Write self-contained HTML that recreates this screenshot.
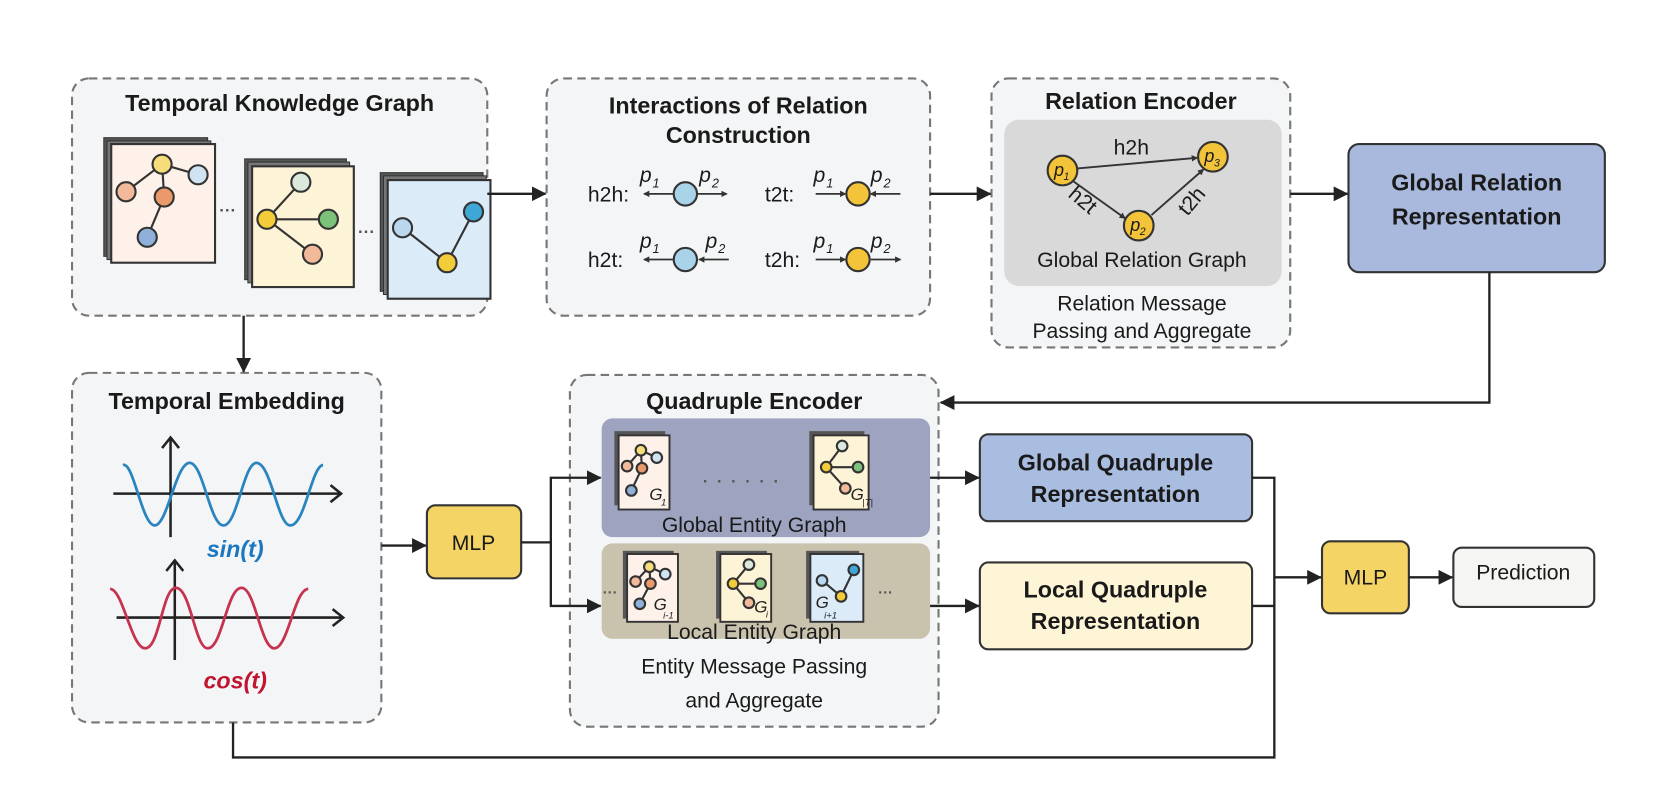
<!DOCTYPE html>
<html><head><meta charset="utf-8"><style>
html,body{margin:0;padding:0;background:#fff;}
svg{display:block;font-family:"Liberation Sans",Arial,sans-serif;}
.t{font-weight:bold;font-size:22px;fill:#1a1a1a;text-anchor:middle;}
.b{font-size:20px;fill:#1a1a1a;text-anchor:middle;}
.dash{fill:#f4f5f6;stroke:#777;stroke-width:2;stroke-dasharray:8,5;}
.ln{stroke:#222;stroke-width:2.2;fill:none;}
.e{stroke:#333;stroke-width:2;}
.n{stroke:#333;stroke-width:2;}
.i{font-style:italic;}
</style></head><body>
<svg width="1661" height="808" viewBox="0 0 1661 808">
<defs>
<marker id="ah" markerWidth="14" markerHeight="14" refX="13" refY="7" orient="auto" markerUnits="userSpaceOnUse" viewBox="0 0 14 14"><path d="M0,0 L14,7 L0,14 z" fill="#222"/></marker>
<marker id="sa" markerWidth="6" markerHeight="6" refX="5" refY="3" orient="auto" markerUnits="userSpaceOnUse" viewBox="0 0 6 6"><path d="M0,0 L6,3 L0,6 z" fill="#333"/></marker>
</defs>
<g transform="scale(1.0593)">
<!-- Dashed containers -->
<rect class="dash" x="68" y="74" width="392" height="224" rx="16"/>
<rect class="dash" x="516" y="74" width="362" height="224" rx="16"/>
<rect class="dash" x="936" y="74" width="282" height="254" rx="16"/>
<rect class="dash" x="68" y="352" width="292" height="330" rx="16"/>
<rect class="dash" x="538" y="354" width="348" height="332" rx="16"/>

<!-- TKG -->
<text class="t" x="264" y="105">Temporal Knowledge Graph</text>
<g>
<rect x="98" y="130" width="98" height="112" fill="#555" stroke="#333"/>
<rect x="101" y="133" width="98" height="112" fill="#777" stroke="#333"/>
<rect x="105" y="136" width="98" height="112" fill="#fdf1ea" stroke="#333" stroke-width="2"/>
<line class="e" x1="153" y1="155" x2="187" y2="165"/><line class="e" x1="153" y1="155" x2="119" y2="181"/><line class="e" x1="153" y1="155" x2="155" y2="186"/><line class="e" x1="155" y1="186" x2="139" y2="224"/>
<circle class="n" cx="153" cy="155" r="9" fill="#f7dc7a"/><circle class="n" cx="187" cy="165" r="9" fill="#cfe3f2"/><circle class="n" cx="119" cy="181" r="9" fill="#f2b99a"/><circle class="n" cx="155" cy="186" r="9" fill="#ea9a6a"/><circle class="n" cx="139" cy="224" r="9" fill="#8fb0d8"/>
</g>
<text x="215" y="204" font-size="16" font-weight="bold" fill="#555" text-anchor="middle">···</text>
<g>
<rect x="231" y="150" width="96" height="114" fill="#555" stroke="#333"/>
<rect x="234" y="153" width="96" height="114" fill="#777" stroke="#333"/>
<rect x="238" y="157" width="96" height="114" fill="#fdf3d6" stroke="#333" stroke-width="2"/>
<line class="e" x1="252" y1="207" x2="284" y2="172"/><line class="e" x1="252" y1="207" x2="310" y2="207"/><line class="e" x1="252" y1="207" x2="295" y2="240"/>
<circle class="n" cx="284" cy="172" r="9" fill="#dbe9dc"/><circle class="n" cx="252" cy="207" r="9" fill="#f3cc3a"/><circle class="n" cx="310" cy="207" r="9" fill="#7cc27a"/><circle class="n" cx="295" cy="240" r="9" fill="#f2b99a"/>
</g>
<text x="346" y="224" font-size="16" font-weight="bold" fill="#555" text-anchor="middle">···</text>
<g>
<rect x="359" y="163" width="97" height="112" fill="#555" stroke="#333"/>
<rect x="362" y="166" width="97" height="112" fill="#777" stroke="#333"/>
<rect x="366" y="170" width="97" height="112" fill="#dcebf8" stroke="#333" stroke-width="2"/>
<line class="e" x1="380" y1="215" x2="422" y2="248"/><line class="e" x1="447" y1="200" x2="422" y2="248"/>
<circle class="n" cx="380" cy="215" r="9" fill="#b9d7ee"/><circle class="n" cx="447" cy="200" r="9" fill="#3ea7d6"/><circle class="n" cx="422" cy="248" r="9" fill="#f3cc3a"/>
</g>

<!-- Interactions -->
<text class="t" x="697" y="107">Interactions of Relation</text>
<text class="t" x="697" y="135">Construction</text>
<g font-size="20" fill="#1a1a1a">
<text x="555" y="190">h2h:</text>
<text x="555" y="252">h2t:</text>
<text x="722" y="190">t2t:</text>
<text x="722" y="252">t2h:</text>
<g class="i" font-size="20">
<text x="604" y="172">p</text><text x="616" y="177" font-size="12">1</text>
<text x="660" y="172">p</text><text x="672" y="177" font-size="12">2</text>
<text x="604" y="234">p</text><text x="616" y="239" font-size="12">1</text>
<text x="666" y="234">p</text><text x="678" y="239" font-size="12">2</text>
<text x="768" y="172">p</text><text x="780" y="177" font-size="12">1</text>
<text x="822" y="172">p</text><text x="834" y="177" font-size="12">2</text>
<text x="768" y="234">p</text><text x="780" y="239" font-size="12">1</text>
<text x="822" y="234">p</text><text x="834" y="239" font-size="12">2</text>
</g>
</g>
<g stroke="#333" stroke-width="1.6">
<line x1="636" y1="183" x2="608" y2="183" marker-end="url(#sa)"/><line x1="658" y1="183" x2="686" y2="183" marker-end="url(#sa)"/>
<line x1="636" y1="245" x2="608" y2="245" marker-end="url(#sa)"/><line x1="688" y1="245" x2="660" y2="245" marker-end="url(#sa)"/>
<line x1="770" y1="183" x2="798" y2="183" marker-end="url(#sa)"/><line x1="850" y1="183" x2="822" y2="183" marker-end="url(#sa)"/>
<line x1="770" y1="245" x2="798" y2="245" marker-end="url(#sa)"/><line x1="822" y1="245" x2="850" y2="245" marker-end="url(#sa)"/>
</g>
<circle class="n" cx="647" cy="183" r="11" fill="#a9d3e8"/>
<circle class="n" cx="647" cy="245" r="11" fill="#a9d3e8"/>
<circle class="n" cx="810" cy="183" r="11" fill="#f3c43a"/>
<circle class="n" cx="810" cy="245" r="11" fill="#f3c43a"/>

<!-- Relation Encoder -->
<text class="t" x="1077" y="103">Relation Encoder</text>
<rect x="948" y="113" width="262" height="157" rx="14" fill="#d9d9d9"/>
<g stroke="#333" stroke-width="1.8">
<line x1="1017" y1="159" x2="1130" y2="149" marker-end="url(#sa)"/>
<line x1="1013" y1="171" x2="1062" y2="206" marker-end="url(#sa)"/>
<line x1="1087" y1="203" x2="1136" y2="160" marker-end="url(#sa)"/>
</g>
<circle class="n" cx="1003" cy="161" r="14" fill="#f3c43a"/>
<circle class="n" cx="1145" cy="148" r="14" fill="#f3c43a"/>
<circle class="n" cx="1075" cy="213" r="14" fill="#f3c43a"/>
<g class="i" font-size="17" fill="#1a1a1a"><text x="995" y="166">p</text><text x="1004" y="170" font-size="10">1</text>
<text x="1137" y="153">p</text><text x="1146" y="157" font-size="10">3</text>
<text x="1067" y="218">p</text><text x="1076" y="222" font-size="10">2</text></g>
<text class="b" x="1068" y="146">h2h</text>
<text class="b" transform="translate(1018,194) rotate(40)">h2t</text>
<text class="b" transform="translate(1130,194) rotate(-50)">t2h</text>
<text class="b" x="1078" y="252">Global Relation Graph</text>
<text class="b" x="1078" y="293">Relation Message</text>
<text class="b" x="1078" y="319">Passing and Aggregate</text>

<!-- Global Relation Representation -->
<rect x="1273" y="136" width="242" height="121" rx="10" fill="#a9b9dd" stroke="#333" stroke-width="2"/>
<text class="t" x="1394" y="180">Global Relation</text>
<text class="t" x="1394" y="212">Representation</text>

<!-- Temporal Embedding -->
<text class="t" x="214" y="386">Temporal Embedding</text>
<g stroke="#222" stroke-width="2.4" fill="none">
<line x1="161" y1="507" x2="161" y2="413"/><polyline points="153,423 161,413 169,423"/>
<line x1="107" y1="466" x2="322" y2="466"/><polyline points="312,458 322,466 312,474"/>
<line x1="165" y1="623" x2="165" y2="529"/><polyline points="157,539 165,529 173,539"/>
<line x1="110" y1="583" x2="324" y2="583"/><polyline points="314,575 324,583 314,591"/>
</g>
<path d="M116,439 C126,435 134,496 146,496 C158,496 166,437 179,437 C192,437 198,496 211,496 C224,496 230,437 242,437 C256,437 262,496 274,496 C288,496 294,440 305,439" fill="none" stroke="#2a84bf" stroke-width="2.6"/>
<path d="M104,556 C116,556 124,612 137,612 C151,612 153,555 166,555 C180,555 184,612 196,612 C210,612 214,555 228,555 C241,555 246,612 259,612 C272,612 278,556 291,556" fill="none" stroke="#c5334f" stroke-width="2.6"/>
<text x="222" y="526" font-size="22" font-weight="bold" font-style="italic" fill="#1a78c2" text-anchor="middle">sin(t)</text>
<text x="222" y="650" font-size="22" font-weight="bold" font-style="italic" fill="#c0142f" text-anchor="middle">cos(t)</text>

<!-- MLP 1 -->
<rect x="403" y="477" width="89" height="69" rx="8" fill="#f5d466" stroke="#333" stroke-width="2"/>
<text class="b" x="447" y="519">MLP</text>

<!-- Quadruple Encoder -->
<text class="t" x="712" y="386">Quadruple Encoder</text>
<rect x="568" y="395" width="310" height="112" rx="10" fill="#9ea3c0"/>
<rect x="568" y="513" width="310" height="90" rx="10" fill="#c9c2ad"/>
<!-- global cards -->
<rect x="580" y="407" width="48" height="70" fill="#555"/><rect x="584" y="411" width="48" height="70" fill="#fdf1ea" stroke="#333" stroke-width="1.8"/>
<line class="e" x1="605" y1="425" x2="620" y2="432"/><line class="e" x1="605" y1="425" x2="592" y2="440"/><line class="e" x1="605" y1="425" x2="606" y2="442"/><line class="e" x1="606" y1="442" x2="596" y2="463"/>
<circle class="n" cx="605" cy="425" r="5" fill="#f7dc7a"/><circle class="n" cx="620" cy="432" r="5" fill="#cfe3f2"/><circle class="n" cx="592" cy="440" r="5" fill="#f2b99a"/><circle class="n" cx="606" cy="442" r="5" fill="#ea9a6a"/><circle class="n" cx="596" cy="463" r="5" fill="#8fb0d8"/>
<text x="613" y="472" font-size="16" font-style="italic" fill="#222">G</text><text x="624" y="477" font-size="9" font-style="italic" fill="#222">1</text>
<text x="702" y="460" font-size="22" fill="#555" text-anchor="middle" letter-spacing="6">······</text>
<rect x="764" y="407" width="52" height="70" fill="#555"/><rect x="768" y="411" width="52" height="70" fill="#fdf3d6" stroke="#333" stroke-width="1.8"/>
<line class="e" x1="780" y1="441" x2="795" y2="421"/><line class="e" x1="780" y1="441" x2="810" y2="441"/><line class="e" x1="780" y1="441" x2="798" y2="461"/>
<circle class="n" cx="795" cy="421" r="5" fill="#dbe9dc"/><circle class="n" cx="780" cy="441" r="5" fill="#f3cc3a"/><circle class="n" cx="810" cy="441" r="5" fill="#7cc27a"/><circle class="n" cx="798" cy="461" r="5" fill="#f2b99a"/>
<text x="803" y="472" font-size="16" font-style="italic" fill="#222">G</text><text x="814" y="477" font-size="9" font-style="italic" fill="#222">|T|</text>
<text class="b" x="712" y="502">Global Entity Graph</text>
<!-- local cards -->
<text x="576" y="564" font-size="14" font-weight="bold" fill="#555" text-anchor="middle">···</text>
<rect x="588" y="520" width="48" height="64" fill="#555"/><rect x="592" y="523" width="48" height="64" fill="#fdf1ea" stroke="#333" stroke-width="1.8"/>
<line class="e" x1="613" y1="535" x2="628" y2="542"/><line class="e" x1="613" y1="535" x2="600" y2="549"/><line class="e" x1="613" y1="535" x2="614" y2="551"/><line class="e" x1="614" y1="551" x2="604" y2="570"/>
<circle class="n" cx="613" cy="535" r="5" fill="#f7dc7a"/><circle class="n" cx="628" cy="542" r="5" fill="#cfe3f2"/><circle class="n" cx="600" cy="549" r="5" fill="#f2b99a"/><circle class="n" cx="614" cy="551" r="5" fill="#ea9a6a"/><circle class="n" cx="604" cy="570" r="5" fill="#8fb0d8"/>
<text x="617" y="576" font-size="16" font-style="italic" fill="#222">G</text><text x="626" y="584" font-size="9" font-style="italic" fill="#222">i-1</text>
<rect x="676" y="520" width="48" height="64" fill="#555"/><rect x="680" y="523" width="48" height="64" fill="#fdf3d6" stroke="#333" stroke-width="1.8"/>
<line class="e" x1="692" y1="551" x2="707" y2="533"/><line class="e" x1="692" y1="551" x2="718" y2="551"/><line class="e" x1="692" y1="551" x2="707" y2="569"/>
<circle class="n" cx="707" cy="533" r="5" fill="#dbe9dc"/><circle class="n" cx="692" cy="551" r="5" fill="#f3cc3a"/><circle class="n" cx="718" cy="551" r="5" fill="#7cc27a"/><circle class="n" cx="707" cy="569" r="5" fill="#f2b99a"/>
<text x="712" y="578" font-size="16" font-style="italic" fill="#222">G</text><text x="723" y="583" font-size="9" font-style="italic" fill="#222">i</text>
<rect x="761" y="520" width="50" height="64" fill="#555"/><rect x="765" y="523" width="50" height="64" fill="#dcebf8" stroke="#333" stroke-width="1.8"/>
<line class="e" x1="776" y1="548" x2="794" y2="563"/><line class="e" x1="806" y1="538" x2="794" y2="563"/>
<circle class="n" cx="776" cy="548" r="5" fill="#b9d7ee"/><circle class="n" cx="806" cy="538" r="5" fill="#3ea7d6"/><circle class="n" cx="794" cy="563" r="5" fill="#f3cc3a"/>
<text x="770" y="574" font-size="16" font-style="italic" fill="#222">G</text><text x="778" y="584" font-size="9" font-style="italic" fill="#222">i+1</text>
<text x="836" y="564" font-size="14" font-weight="bold" fill="#555" text-anchor="middle">···</text>
<text class="b" x="712" y="603">Local Entity Graph</text>
<text class="b" x="712" y="636">Entity Message Passing</text>
<text class="b" x="712" y="668">and Aggregate</text>

<!-- Quadruple representations -->
<rect x="925" y="410" width="257" height="82" rx="8" fill="#a9bde0" stroke="#333" stroke-width="2"/>
<text class="t" x="1053" y="444">Global Quadruple</text>
<text class="t" x="1053" y="474">Representation</text>
<rect x="925" y="531" width="257" height="82" rx="8" fill="#fdf5d6" stroke="#333" stroke-width="2"/>
<text class="t" x="1053" y="564">Local Quadruple</text>
<text class="t" x="1053" y="594">Representation</text>

<!-- MLP 2 and Prediction -->
<rect x="1248" y="511" width="82" height="68" rx="8" fill="#f5d466" stroke="#333" stroke-width="2"/>
<text class="b" x="1289" y="552">MLP</text>
<rect x="1372" y="517" width="133" height="56" rx="8" fill="#f5f5f3" stroke="#333" stroke-width="2"/>
<text class="b" x="1438" y="547">Prediction</text>

<!-- Connectors -->
<line class="ln" x1="460" y1="183" x2="515" y2="183" marker-end="url(#ah)"/>
<line class="ln" x1="878" y1="183" x2="935" y2="183" marker-end="url(#ah)"/>
<line class="ln" x1="1218" y1="183" x2="1272" y2="183" marker-end="url(#ah)"/>
<polyline class="ln" points="1406,257 1406,380 888,380" marker-end="url(#ah)"/>
<line class="ln" x1="230" y1="298" x2="230" y2="351" marker-end="url(#ah)"/>
<line class="ln" x1="360" y1="515" x2="402" y2="515" marker-end="url(#ah)"/>
<polyline class="ln" points="492,512 520,512 520,451 567,451" marker-end="url(#ah)"/>
<polyline class="ln" points="520,512 520,572 567,572" marker-end="url(#ah)"/>
<line class="ln" x1="878" y1="451" x2="924" y2="451" marker-end="url(#ah)"/>
<line class="ln" x1="878" y1="572" x2="924" y2="572" marker-end="url(#ah)"/>
<polyline class="ln" points="1182,451 1203,451 1203,715 220,715 220,682"/>
<line class="ln" x1="1182" y1="572" x2="1203" y2="572"/>
<line class="ln" x1="1203" y1="545" x2="1247" y2="545" marker-end="url(#ah)"/>
<line class="ln" x1="1330" y1="545" x2="1371" y2="545" marker-end="url(#ah)"/>
</g>
</svg>
</body></html>
